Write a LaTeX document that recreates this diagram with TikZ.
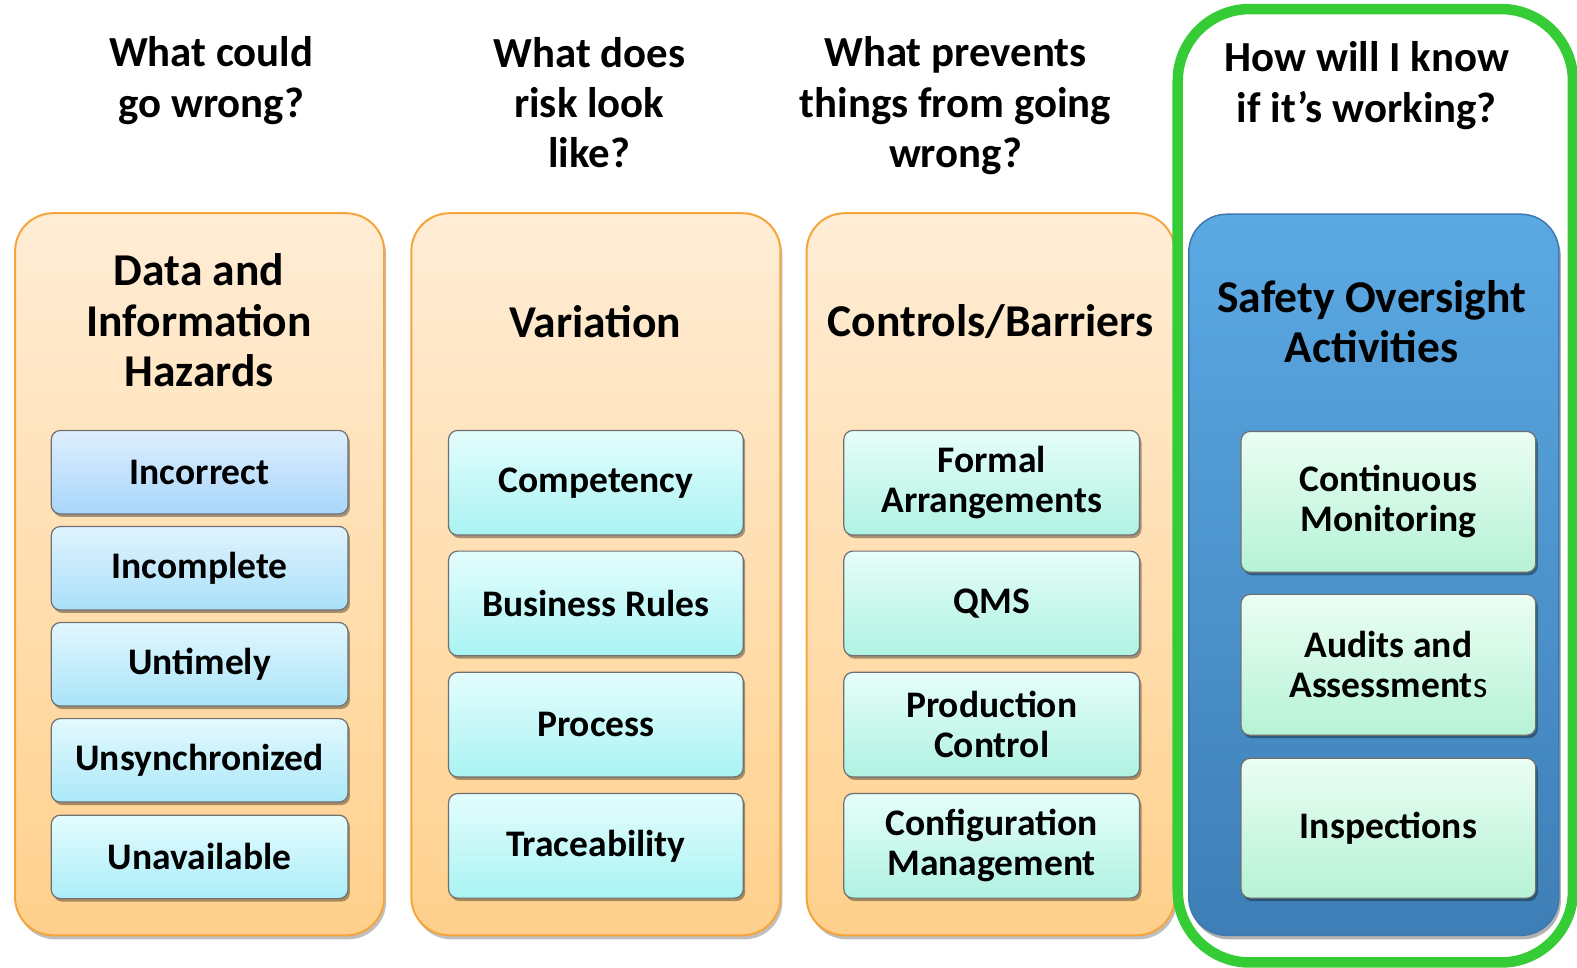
\documentclass[tikz,border=0pt]{standalone}
\usepackage{fontspec}
\setmainfont{Carlito}
\usetikzlibrary{shadows}
\definecolor{orBorder}{HTML}{F5A53C}
\definecolor{orTop}{HTML}{FFEDD6}
\definecolor{orBot}{HTML}{FFD08C}
\definecolor{blTop}{HTML}{5BA9E4}
\definecolor{blBot}{HTML}{3E7EB6}
\definecolor{blBorder}{HTML}{3F78AE}
\definecolor{grn}{HTML}{36CC36}
\definecolor{aTop}{HTML}{DEEEFE}
\definecolor{aBot}{HTML}{A8D6FA}
\definecolor{bTop}{HTML}{E4FCFE}
\definecolor{bBot}{HTML}{ABEDF8}
\definecolor{cTop}{HTML}{E4FDFD}
\definecolor{cBot}{HTML}{AAF3F3}
\definecolor{dTop}{HTML}{E6FEFA}
\definecolor{dBot}{HTML}{B0F2E2}
\definecolor{eTop}{HTML}{EBFEF3}
\definecolor{eBot}{HTML}{B6F2D6}
\definecolor{boxBorder}{HTML}{707070}
\tikzset{
  question/.style={font=\fontsize{42.6}{50}\selectfont\bfseries, align=center, inner sep=0, text=black},
  title/.style={font=\fontsize{45.3}{50}\selectfont\bfseries, align=center, inner sep=0, text=black},
  panel/.style={rounded corners=38pt, draw=orBorder, line width=2pt, top color=orTop, bottom color=orBot, inner sep=0, outer sep=0,
    drop shadow={shadow xshift=2pt, shadow yshift=-4pt, opacity=0.25, fill=black}},
  bluepanel/.style={rounded corners=38pt, draw=blBorder, line width=1.5pt, top color=blTop, bottom color=blBot, inner sep=0, outer sep=0,
    drop shadow={shadow xshift=2pt, shadow yshift=-4pt, opacity=0.3, fill=black}},
  item/.style={rounded corners=9pt, draw=boxBorder, line width=1.2pt, inner sep=0, outer sep=0, align=center,
    font=\fontsize{37.3}{40}\selectfont\bfseries, text=black,
    drop shadow={shadow xshift=2pt, shadow yshift=-3pt, opacity=0.35, fill=black}},
  itemA/.style={item, top color=aTop, bottom color=aBot},
  itemB/.style={item, top color=bTop, bottom color=bBot},
  itemC/.style={item, top color=cTop, bottom color=cBot},
  itemD/.style={item, top color=dTop, bottom color=dBot},
  itemE/.style={item, top color=eTop, bottom color=eBot},
}
\begin{document}
\begin{tikzpicture}[x=1pt,y=-1pt,scale=1.0057,every node/.append style={transform shape}]
\useasboundingbox[fill=white] (0,0) rectangle (1568,961.5);

% panels
\node[panel, minimum width=367pt, minimum height=718pt] (p1) at (198.5,571) {};
\node[panel, minimum width=367pt, minimum height=718pt] (p2) at (592.5,571) {};
\node[panel, minimum width=366pt, minimum height=718pt] (p3) at (985,571) {};
\node[bluepanel, minimum width=368pt, minimum height=717pt] (p4) at (1366,571.5) {};

% green frame
\draw[grn, line width=10.5pt, rounded corners=72pt] (1171,9) rectangle (1564,957);

% questions
\node[question] (q1) at (210,80) {What could\\go wrong?};
\node[question] (q2) at (586,102) {What does\\risk look\\like?};
\node[question] (q3) at (950,105) {What prevents\\things from going\\wrong?};
\node[question] (q4) at (1359,85) {How will I know\\if it’s working?};

% titles
\node[title] (t1) at (198,318.5) {Data and\\Information\\Hazards};
\node[title] (t2) at (592,320) {Variation};
\node[title] (t3) at (985,320) {Controls/Barriers};
\node[title] (t4) at (1364,319.5) {Safety Oversight\\Activities};

% column 1 items
\node[itemA, minimum width=295pt, minimum height=83pt] (a1) at (198.5,469.5) {Incorrect};
\node[itemA, minimum width=295pt, minimum height=83pt, top color=aTop!60!bTop, bottom color=aBot!60!bBot] (a2) at (198.5,565) {Incomplete};
\node[itemA, minimum width=295pt, minimum height=83pt, top color=aTop!40!bTop, bottom color=aBot!40!bBot] (a3) at (198.5,660.5) {Untimely};
\node[itemB, minimum width=295pt, minimum height=83pt, top color=aTop!20!bTop, bottom color=aBot!20!bBot] (a4) at (198.5,756) {Unsynchronized};
\node[itemB, minimum width=295pt, minimum height=83pt] (a5) at (198.5,852) {Unavailable};

% column 2 items
\node[itemC, minimum width=293pt, minimum height=104pt] (b1) at (592.5,480) {Competency};
\node[itemC, minimum width=293pt, minimum height=104pt] (b2) at (592.5,600) {Business Rules};
\node[itemC, minimum width=293pt, minimum height=104pt] (b3) at (592.5,720.5) {Process};
\node[itemC, minimum width=293pt, minimum height=104pt] (b4) at (592.5,841) {Traceability};

% column 3 items
\node[itemD, minimum width=294pt, minimum height=104pt] (c1) at (986,480) {Formal\\Arrangements};
\node[itemD, minimum width=294pt, minimum height=104pt] (c2) at (986,600) {QMS};
\node[itemD, minimum width=294pt, minimum height=104pt] (c3) at (986,720.5) {Production\\Control};
\node[itemD, minimum width=294pt, minimum height=104pt] (c4) at (986,841) {Configuration\\Management};

% column 4 items
\node[itemE, minimum width=293pt, minimum height=140pt] (d1) at (1380.5,499) {Continuous\\Monitoring};
\node[itemE, minimum width=293pt, minimum height=140pt] (d2) at (1380.5,661) {Audits and\\Assessment{\mdseries s}};
\node[itemE, minimum width=293pt, minimum height=139pt] (d3) at (1380.5,823.5) {Inspections};
\end{tikzpicture}
\end{document}
